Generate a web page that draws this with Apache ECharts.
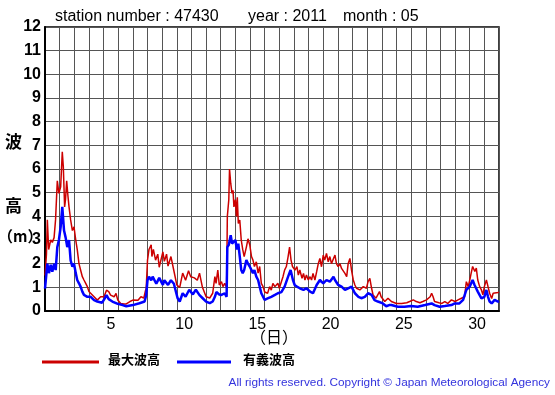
<!DOCTYPE html>
<html><head><meta charset="utf-8">
<script src="https://cdn.jsdelivr.net/npm/echarts@6/dist/echarts.min.js"></script>
<style>html,body{margin:0;padding:0;background:#fff}#c{width:555px;height:395px}</style>
</head><body><div id="c"></div>
<script>
// time in days since 1 May 00:00, wave heights in metres
const maxTime = [0.0,0.1,0.16,0.25,0.39,0.5,0.62,0.72,0.84,0.95,1.07,1.18,1.25,1.34,1.4,1.48,1.56,1.64,1.75,1.87,1.98,2.1,2.2,2.32,2.43,2.55,2.66,2.78,2.89,3.0,3.12,3.35,3.57,3.8,4.03,4.2,4.35,4.48,4.6,4.72,4.85,4.97,5.17,5.4,5.55,5.8,6.0,6.35,6.55,6.75,6.86,6.91,7.0,7.1,7.25,7.3,7.4,7.55,7.7,7.8,8.05,8.15,8.3,8.4,8.6,8.8,9.0,9.2,9.4,9.6,9.8,9.95,10.2,10.4,10.55,10.75,11.0,11.25,11.45,11.6,11.68,11.8,11.9,12.05,12.15,12.27,12.4,12.45,12.55,12.6,12.68,12.77,12.84,12.9,13.0,13.07,13.13,13.2,13.3,13.4,13.5,13.6,13.75,13.86,13.98,14.1,14.2,14.3,14.43,14.55,14.66,14.77,14.89,15.0,15.1,15.2,15.34,15.45,15.56,15.7,15.8,15.9,16.0,16.14,16.25,16.36,16.48,16.6,16.7,16.8,16.9,17.07,17.2,17.3,17.4,17.55,17.65,17.75,17.85,17.98,18.1,18.2,18.3,18.43,18.55,18.66,18.77,18.88,19.0,19.1,19.22,19.34,19.45,19.56,19.7,19.8,19.9,20.02,20.14,20.25,20.36,20.48,20.6,20.7,20.82,20.93,21.05,21.16,21.27,21.5,21.73,21.95,22.06,22.18,22.3,22.4,22.6,22.84,22.95,23.2,23.42,23.53,23.65,24.0,24.35,24.7,24.9,25.15,25.25,25.35,25.6,25.8,26.05,26.3,26.4,26.5,26.6,26.9,27.1,27.3,27.5,27.75,27.85,28.0,28.2,28.4,28.65,28.77,28.9,29.0,29.1,29.2,29.3,29.35,29.45,29.55,29.68,29.8,29.9,30.0,30.14,30.25,30.36,30.5,30.6,30.7,30.93,31.0];
const maxHeight = [1.5,2.4,3.85,2.6,3.0,2.9,3.1,3.85,5.5,4.97,5.25,6.73,6.1,4.4,4.7,5.5,4.9,4.4,3.85,3.4,3.56,3.0,2.6,2.0,1.73,1.45,1.31,1.17,1.03,0.82,0.82,0.6,0.46,0.6,0.6,0.88,0.82,0.67,0.74,0.6,0.74,0.46,0.32,0.3,0.3,0.4,0.46,0.45,0.6,0.55,0.86,0.95,2.15,2.6,2.8,2.3,2.6,2.15,2.4,1.85,2.5,2.1,2.4,1.9,2.3,1.7,1.1,1.0,1.6,1.3,1.7,1.45,1.4,1.3,1.6,1.0,0.6,0.55,0.75,1.45,1.17,1.73,1.1,1.24,1.03,1.17,1.0,4.0,4.7,6.0,5.4,4.97,5.1,4.4,4.7,4.0,4.8,3.7,3.84,3.0,2.6,2.3,2.7,3.05,2.8,2.3,2.15,1.88,2.08,1.6,1.88,1.17,1.03,0.8,0.88,0.75,1.03,0.88,1.17,1.03,1.1,1.17,0.96,1.24,1.45,1.73,1.88,2.3,2.7,2.15,1.88,1.73,1.87,1.52,1.73,1.38,1.59,1.31,1.52,1.31,1.45,1.31,1.59,1.31,1.66,2.0,2.22,1.87,2.36,2.15,2.43,2.08,2.3,2.0,2.22,2.36,2.0,1.87,2.0,1.8,1.87,1.59,1.45,2.0,2.22,1.73,1.31,1.1,0.96,0.89,1.03,0.96,1.24,1.38,0.96,0.68,0.54,0.82,0.6,0.4,0.54,0.47,0.4,0.32,0.32,0.35,0.4,0.47,0.53,0.4,0.35,0.4,0.47,0.6,0.75,0.6,0.4,0.35,0.32,0.4,0.32,0.47,0.53,0.4,0.47,0.53,0.6,1.24,1.03,1.3,1.6,1.88,1.95,1.67,1.81,1.31,1.03,0.89,0.68,1.03,1.31,1.03,0.75,0.53,0.75,0.82,0.78,0.8];
const sigTime = [0.0,0.16,0.27,0.39,0.5,0.62,0.73,0.84,0.95,1.07,1.18,1.3,1.41,1.52,1.64,1.75,1.87,1.98,2.1,2.2,2.32,2.43,2.55,2.66,2.89,3.12,3.35,3.57,3.9,4.05,4.2,4.35,4.6,4.97,5.3,5.55,6.0,6.45,6.8,6.91,7.0,7.1,7.25,7.35,7.6,7.8,8.05,8.15,8.4,8.6,8.8,9.05,9.2,9.4,9.6,9.85,10.1,10.3,10.55,10.75,11.0,11.25,11.45,11.6,11.7,11.8,11.9,12.05,12.27,12.4,12.45,12.55,12.68,12.77,12.9,13.0,13.1,13.2,13.3,13.4,13.5,13.6,13.75,13.86,13.98,14.1,14.2,14.3,14.43,14.55,14.66,14.77,15.0,15.2,15.45,15.7,15.9,16.14,16.36,16.6,16.77,16.93,17.05,17.2,17.4,17.65,17.85,18.1,18.3,18.55,18.77,19.0,19.22,19.45,19.7,19.8,20.02,20.25,20.48,20.7,20.93,21.16,21.4,21.6,21.84,22.06,22.3,22.5,22.73,23.07,23.3,23.5,23.65,24.1,24.55,25.0,25.45,25.95,26.4,26.6,26.95,27.3,27.75,27.98,28.3,28.55,28.65,28.77,28.9,29.0,29.1,29.2,29.33,29.45,29.55,29.68,29.8,29.9,30.0,30.14,30.25,30.36,30.5,30.7,30.93,31.0];
const sigHeight = [0.95,2.0,1.6,1.95,1.66,2.0,1.73,2.7,3.0,3.56,4.4,3.4,3.1,2.7,3.0,2.14,1.87,2.0,1.6,1.31,1.17,1.03,0.82,0.68,0.6,0.6,0.46,0.4,0.35,0.5,0.67,0.5,0.4,0.3,0.25,0.2,0.25,0.33,0.4,0.67,1.3,1.45,1.3,1.45,1.15,1.4,1.1,1.3,1.1,1.3,1.15,0.55,0.4,0.75,0.6,0.9,0.7,0.9,0.67,0.55,0.4,0.33,0.4,0.6,0.8,0.75,0.7,0.68,0.75,0.6,2.7,2.8,3.2,2.85,2.93,3.0,2.6,2.85,2.3,1.73,1.6,1.73,2.15,2.0,1.88,1.8,1.6,1.73,1.45,1.31,1.03,0.75,0.47,0.53,0.6,0.68,0.75,0.8,1.03,1.45,1.73,1.31,1.1,1.03,0.96,0.89,0.96,0.82,0.75,1.1,1.31,1.17,1.31,1.24,1.45,1.31,1.1,1.03,0.89,0.96,1.03,0.75,0.6,0.54,0.6,0.75,0.68,0.46,0.4,0.32,0.2,0.25,0.25,0.18,0.18,0.21,0.18,0.25,0.32,0.25,0.18,0.21,0.25,0.32,0.32,0.47,0.53,0.89,0.82,1.03,1.17,1.31,1.1,1.17,0.82,0.75,0.53,0.47,0.6,0.89,0.6,0.4,0.32,0.47,0.4,0.42];
const yTicks = [0,1,2,3,4,5,6,7,8,9,10,11,12];
const dayLabels = [5,10,15,20,25,30];
const seriesNames = ['最大波高','有義波高'];

const zip = (a,b)=>a.map((t,i)=>[t,b[i]]);
const chart = echarts.init(document.getElementById('c'), null, {renderer:'canvas'});
const F = 'Liberation Sans, Arial, Helvetica, sans-serif';
const CJK = 'Noto Sans CJK JP, sans-serif';
chart.setOption({
  animation:false,
  backgroundColor:'#fff',
  grid:{left:45,right:56,top:27,bottom:84,show:true,borderColor:'#000',borderWidth:1.5,backgroundColor:'transparent'},
  xAxis:[
    {type:'value',min:0,max:31,interval:1,position:'bottom',
     axisLine:{show:true,lineStyle:{color:'#000',width:2}},axisTick:{show:false},axisLabel:{show:false},
     splitLine:{show:true,lineStyle:{color:'#555',width:1}}},
    {type:'value',min:0,max:31,interval:0.5,position:'bottom',
     axisLine:{show:false},axisTick:{show:false},splitLine:{show:false},
     axisLabel:{show:true,margin:6,fontFamily:F,fontSize:16,color:'#000',
       formatter:v=>{const d=v+0.5; return (v%1!==0 && dayLabels.includes(d))?String(d):'';}}}
  ],
  yAxis:{type:'value',min:yTicks[0],max:yTicks[yTicks.length-1],interval:1,
    axisLine:{show:true,lineStyle:{color:'#000',width:2}},axisTick:{show:false},
    axisLabel:{margin:4,fontFamily:F,fontSize:16,fontWeight:'bold',color:'#000'},
    splitLine:{show:true,lineStyle:{color:'#555',width:1}}},
  series:[
    {name:seriesNames[0],type:'line',xAxisIndex:0,showSymbol:false,data:zip(maxTime,maxHeight),
     lineStyle:{color:'#cc0000',width:1.5},itemStyle:{color:'#cc0000'}},
    {name:seriesNames[1],type:'line',xAxisIndex:0,showSymbol:false,data:zip(sigTime,sigHeight),
     lineStyle:{color:'#0000ff',width:2.5},itemStyle:{color:'#0000ff'}}
  ],
  graphic:[
    {type:'text',left:55,top:9,style:{text:'station number : 47430',font:'16px '+F,fill:'#000'}},
    {type:'text',left:248,top:9,style:{text:'year : 2011',font:'16px '+F,fill:'#000'}},
    {type:'text',left:343,top:9,style:{text:'month : 05',font:'16px '+F,fill:'#000'}},
    {type:'text',left:5,top:133,style:{text:'波',font:'bold 17px '+CJK,fill:'#000'}},
    {type:'text',left:5,top:197,style:{text:'高',font:'bold 17px '+CJK,fill:'#000'}},
    {type:'text',left:-2,top:229,style:{text:'（m）',font:'bold 15px '+CJK,fill:'#000'}},
    {type:'text',left:250,top:329,style:{text:'（日）',font:'16px '+CJK,fill:'#000'}},
    {type:'line',shape:{x1:42,y1:362,x2:99,y2:362},style:{stroke:'#cc0000',lineWidth:3}},
    {type:'text',left:108,top:353,style:{text:seriesNames[0],font:'bold 13px '+CJK,fill:'#000'}},
    {type:'line',shape:{x1:177,y1:362,x2:231,y2:362},style:{stroke:'#0000ff',lineWidth:3}},
    {type:'text',left:243,top:353,style:{text:seriesNames[1],font:'bold 13px '+CJK,fill:'#000'}},
    {type:'text',right:5,top:377,style:{text:'All rights reserved. Copyright © Japan Meteorological Agency',font:'11.8px '+F,fill:'#3333dd'}}
  ]
});
</script></body></html>
